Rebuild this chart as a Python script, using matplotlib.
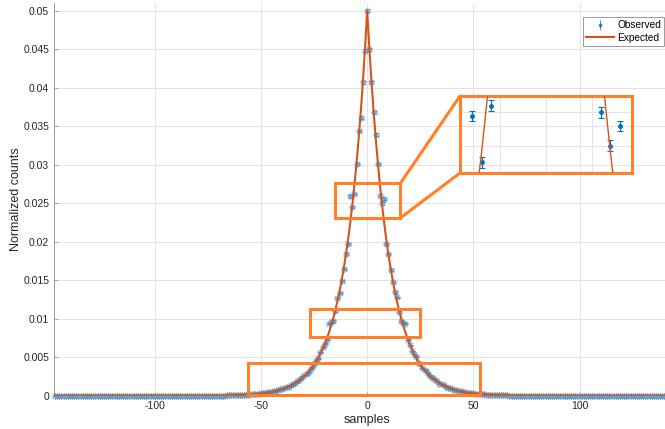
import matplotlib
matplotlib.use("Agg")
import matplotlib.pyplot as plt
from matplotlib.patches import Rectangle, ConnectionPatch
from matplotlib.lines import Line2D

plt.rcParams['font.family'] = ['Liberation Sans', 'DejaVu Sans']

# ---------------------------------------------------------------- data
samples = list(range(-147, 148))

# expected normalized counts for |k| = 0, 1, 2, ... (symmetric around 0)
expected_half = [
    0.04996, 0.04520, 0.04090, 0.03701, 0.03349, 0.03030, 0.02742, 0.02481, 0.02245, 0.02031,
    0.01838, 0.01663, 0.01505, 0.01361, 0.01232, 0.01115, 0.01008, 0.00912, 0.00826, 0.00747,
    0.00676, 0.00612, 0.00553, 0.00501, 0.00453, 0.00410, 0.00371, 0.00336, 0.00304, 0.00275,
    0.00249, 0.00225, 0.00204, 0.00184, 0.00167, 0.00151, 0.00137, 0.00124, 0.00112, 0.00101,
    0.000915, 0.000828, 0.000749, 0.000678, 0.000613, 0.000555, 0.000502, 0.000454, 0.000411, 0.000372,
    0.000337, 0.000305, 0.000276, 0.000249, 0.000226, 0.000204, 0.000185, 0.000167, 0.000151, 0.000137,
    0.000124, 0.000112, 0.000101, 0.000092, 0.000083, 0.000075, 0.000068, 0.000062, 0.000056, 0.000050,
    0.000045, 0.000041, 0.000037, 0.000034, 0.000030, 0.000028, 0.000025, 0.000023, 0.000020, 0.000018,
    0.000017, 0.000015, 0.000014, 0.000012, 0.000011, 0.000010, 0.000009, 0.000008, 0.000008, 0.000007,
    0.000006,
] + [0.0] * 57

# observed normalized counts at the peak and on each side (k = 1, 2, ... 60)
observed_peak = 0.0500
observed_right = [
    0.0450, 0.0407, 0.0368, 0.0339, 0.0301, 0.0260, 0.0250, 0.0256, 0.0197, 0.0184,
    0.0164, 0.0148, 0.0135, 0.0128, 0.0109, 0.0097, 0.0095, 0.0094, 0.0073, 0.0066,
    0.0058, 0.0054, 0.0051, 0.0043, 0.0042, 0.0036, 0.0034, 0.0031, 0.0027, 0.0025,
    0.0023, 0.0021, 0.0019, 0.0016, 0.0015, 0.0014, 0.0012, 0.0011, 0.00100, 0.00093,
    0.00082, 0.00074, 0.00069, 0.00062, 0.00055, 0.00051, 0.00045, 0.00042, 0.00037, 0.00034,
    0.00031, 0.00027, 0.00025, 0.00023, 0.00020, 0.00019, 0.00017, 0.00015, 0.00014, 0.00012,
]
observed_left = [
    0.0448, 0.0407, 0.0361, 0.0344, 0.0301, 0.0262, 0.0245, 0.0259, 0.0197, 0.0184,
    0.0165, 0.0149, 0.0134, 0.0127, 0.0110, 0.0097, 0.0096, 0.0094, 0.0073, 0.0068,
    0.0063, 0.0057, 0.0049, 0.0046, 0.0041, 0.0037, 0.0034, 0.0030, 0.0028, 0.0026,
    0.0023, 0.0021, 0.0019, 0.0017, 0.0015, 0.0014, 0.0012, 0.0012, 0.00102, 0.00090,
    0.00085, 0.00076, 0.00067, 0.00062, 0.00056, 0.00049, 0.00047, 0.00041, 0.00038, 0.00033,
    0.00031, 0.00028, 0.00025, 0.00022, 0.00021, 0.00018, 0.00017, 0.00015, 0.00013, 0.00012,
]

# error bar half-lengths for |k| = 0, 1, 2, ...
error_half = [
    0.000224, 0.000213, 0.000202, 0.000192, 0.000183, 0.000174, 0.000166, 0.000158, 0.000150, 0.000143,
    0.000136, 0.000129, 0.000123, 0.000117, 0.000111, 0.000106, 0.000100, 0.000095, 0.000091, 0.000086,
    0.000082, 0.000078, 0.000074, 0.000071, 0.000067, 0.000064, 0.000061, 0.000058, 0.000055, 0.000052,
    0.000050,
] + [0.00004] * 117

x_ticks = [-100, -50, 0, 50, 100]
x_ticklabels = ['-100', '-50', '0', '50', '100']
y_ticks = [0, 0.005, 0.01, 0.015, 0.02, 0.025, 0.03, 0.035, 0.04, 0.045, 0.05]
y_ticklabels = ['0', '0.005', '0.01', '0.015', '0.02', '0.025', '0.03', '0.035', '0.04', '0.045', '0.05']

# zoom windows (x0, x1, y0, y1) marked on the main axes
zoom_windows = [
    (-15.2, 15.6, 0.0231, 0.0276),
    (-27.0, 25.0, 0.00762, 0.01125),
    (-56.2, 53.2, 0.00017, 0.00424),
]
inset_xlim = (-9.35, 9.35)
inset_ylim = (0.02418, 0.02649)

# --------------------------------------------------------- assemble
tail = expected_half[61:]
observed = (tail[::-1] + observed_left[::-1] + [observed_peak] + observed_right + tail)
expected = expected_half[:0:-1] + expected_half
errors = error_half[:0:-1] + error_half

BLUE = '#0072BD'
LINE = '#D95319'
BOX = '#FF8028'

# ---------------------------------------------------------- figure
fig = plt.figure(figsize=(6.65, 4.29), dpi=100)
ax = fig.add_axes([54 / 665, 33 / 429, 626.4 / 665, 393 / 429])

ax.errorbar(samples, observed, yerr=errors, fmt='none', ecolor=BLUE, elinewidth=0.7,
            capsize=1.8, capthick=0.7, alpha=0.6, zorder=2, clip_on=False)
ax.plot(samples, observed, linestyle='none', marker=(8, 2, 0), markersize=5,
        markeredgewidth=0.8, color='#3a8fd4', alpha=0.6, zorder=2, clip_on=False)
ax.plot(samples, expected, color=LINE, linewidth=1.5, zorder=3)

ax.set_xlim(-147.5, 147.5)
ax.set_ylim(0, 0.0510)
ax.set_xticks(x_ticks)
ax.set_xticklabels(x_ticklabels)
ax.set_yticks(y_ticks)
ax.set_yticklabels(y_ticklabels)
ax.tick_params(direction='in', length=3, width=0.6, labelsize=7.5,
               colors='#9a9a9a', labelcolor='#262626')
ax.grid(True, color='#e3e3e3', linewidth=0.7)
ax.set_axisbelow(True)
for side in ('top', 'right'):
    ax.spines[side].set_visible(False)
for side in ('left', 'bottom'):
    ax.spines[side].set_color('#9a9a9a')
    ax.spines[side].set_linewidth(0.7)
ax.set_xlabel('samples', fontsize=9, color='#262626', labelpad=2)
ax.set_ylabel('Normalized counts', fontsize=9, color='#262626', labelpad=1)

for (x0, x1, y0, y1) in zoom_windows:
    ax.add_patch(Rectangle((x0, y0), x1 - x0, y1 - y0, fill=False, edgecolor=BOX,
                           linewidth=2.2, zorder=6, clip_on=False))

# legend
obs_handle = ax.errorbar([], [], yerr=[], fmt='.', color=BLUE, ecolor=BLUE, markersize=3,
                         elinewidth=0.7, capsize=1.6, alpha=0.8)
exp_handle = Line2D([], [], color=LINE, linewidth=1.5)
leg = fig.legend([obs_handle, exp_handle], ['Observed', 'Expected'], loc='upper left',
                 bbox_to_anchor=(583 / 665, 1 - 17.3 / 429), bbox_transform=fig.transFigure,
                 fontsize=7.3, frameon=True, fancybox=False, framealpha=1,
                 edgecolor='#8c8c8c', handlelength=2.8, handletextpad=0.3,
                 labelspacing=0.25, borderpad=0.3, borderaxespad=0)
leg.get_frame().set_linewidth(0.6)

# inset
ins = fig.add_axes([460 / 665, 1 - 173 / 429, 172 / 665, 77 / 429])
ins.set_facecolor('none')
ins.errorbar(samples, observed, yerr=errors, fmt='.', color=BLUE, ecolor=BLUE,
             markersize=5, elinewidth=0.8, capsize=2, capthick=0.8, zorder=2)
ins.plot(samples, expected, color=LINE, linewidth=1.0, zorder=3)
ins.set_xlim(*inset_xlim)
ins.set_ylim(*inset_ylim)
ins.set_xticks([-5, 0, 5])
ins.set_yticks([0.025, 0.026])
ins.tick_params(length=0, labelbottom=False, labelleft=False)
ins.grid(True, color='#e3e3e3', linewidth=0.7)
for sp in ins.spines.values():
    sp.set_color(BOX)
    sp.set_linewidth(2.2)

x0, x1, y0, y1 = zoom_windows[0]
for ya, yb in ((y1, 1), (y0, 0)):
    con = ConnectionPatch(xyA=(x1, ya), coordsA=ax.transData,
                          xyB=(0, yb), coordsB=ins.transAxes,
                          color=BOX, linewidth=2.2, zorder=6)
    fig.add_artist(con)

fig.savefig('out.png', dpi=100)
